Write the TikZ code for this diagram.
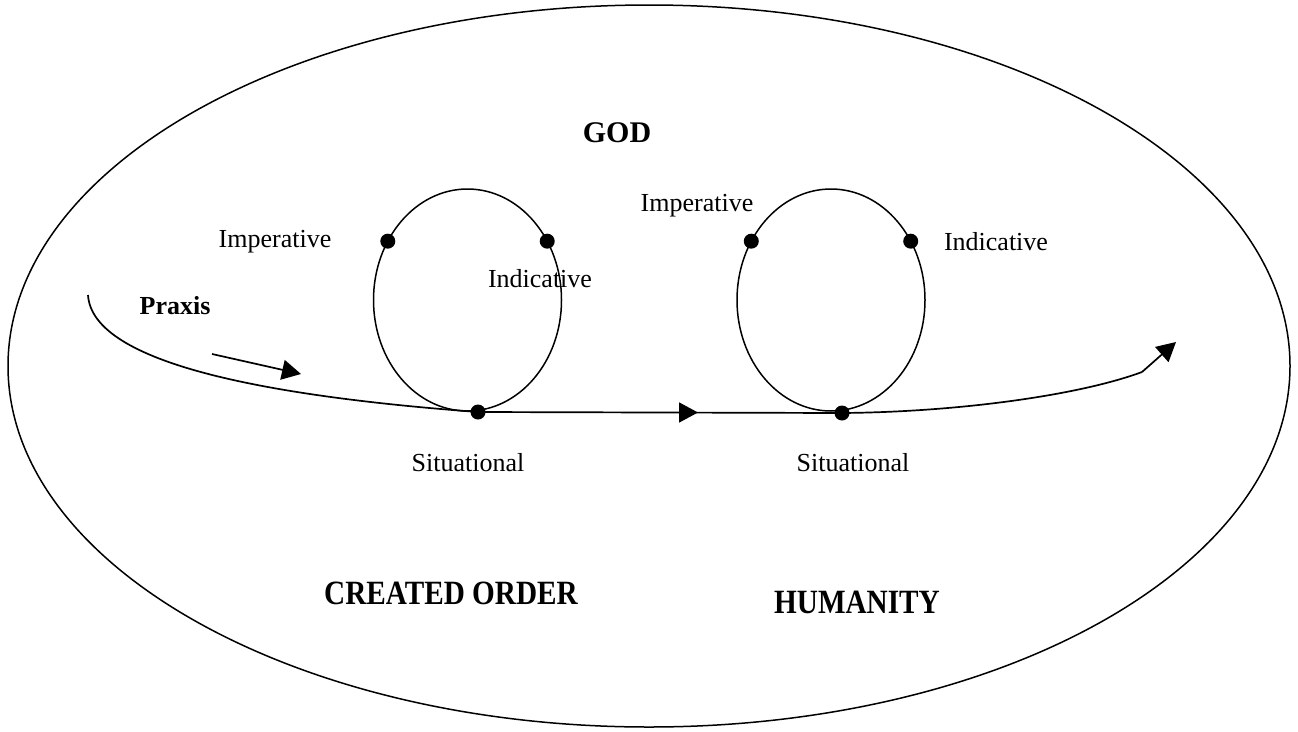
\documentclass[tikz,border=0pt]{standalone}
\usepackage{fontspec}
\setmainfont{Liberation Serif}
\usetikzlibrary{arrows.meta,calc}
\tikzset{
  outline/.style={draw, line width=1.5pt},
  pt/.style={circle, fill=black, inner sep=0pt, minimum size=15pt},
  lbl/.style={font=\fontsize{26}{30}\selectfont, inner sep=0pt},
  head/.style={font=\bfseries\fontsize{30}{34}\selectfont, inner sep=0pt},
  bighead/.style={font=\bfseries\fontsize{34}{38}\selectfont, inner sep=0pt, xscale=0.86},
  flow/.style={line width=1.7pt},
  tip/.style={-{Triangle[length=19pt,width=20pt]}, line width=1.7pt}
}
\begin{document}
\begin{tikzpicture}[x=1pt,y=-1pt]
\useasboundingbox (0,0) rectangle (1298,731);

% enclosing ellipse
\draw[outline] (649,366) ellipse [x radius=641, y radius=361];

% the two loops
\coordinate (cA) at (467.5,300);
\coordinate (cB) at (831,300);
\draw[outline] (cA) ellipse [x radius=94, y radius=111];
\draw[outline] (cB) ellipse [x radius=94, y radius=111];

% points on the loops
\node[pt] (impA) at ($(cA)+(212:94 and 111)$) {};
\node[pt] (indA) at ($(cA)+(328:94 and 111)$) {};
\node[pt] (sitA) at (478,412) {};
\node[pt] (impB) at ($(cB)+(212:94 and 111)$) {};
\node[pt] (indB) at ($(cB)+(328:94 and 111)$) {};
\node[pt] (sitB) at (842,413) {};

% the praxis path
\coordinate (start) at (88,295);
\coordinate (bend) at (1142,372);
\coordinate (finish) at (1176,342);
\draw[flow] (start) .. controls (92,360) and (250,395) .. (sitA.center);
\draw[flow] (sitA.center) -- (sitB.center);
\draw[flow] (sitB.center) .. controls (960,412) and (1080,395) .. (bend);
\draw[tip] (bend) -- (finish);

% direction marks
\coordinate (midA) at (640,412.5);
\coordinate (midB) at (698,412.5);
\draw[tip] (midA) -- (midB);
\coordinate (pxA) at (212,354);
\coordinate (pxB) at (301,374);
\draw[tip] (pxA) -- (pxB);

% labels
\node[head] (god) at (617,133) {GOD};
\node[lbl] (limpA) at (275,242) {Imperative};
\node[lbl] (lindA) at (540,279) {Indicative};
\node[lbl] (limpB) at (697,206) {Imperative};
\node[lbl] (lindB) at (996,242) {Indicative};
\node[lbl] (lsitA) at (468,463) {Situational};
\node[lbl] (lsitB) at (853,463) {Situational};
\node[lbl, font=\bfseries\fontsize{26}{30}\selectfont] (praxis) at (175,306) {Praxis};
\node[bighead] (created) at (451,593) {CREATED ORDER};
\node[bighead] (humanity) at (857,602) {HUMANITY};
\end{tikzpicture}
\end{document}
